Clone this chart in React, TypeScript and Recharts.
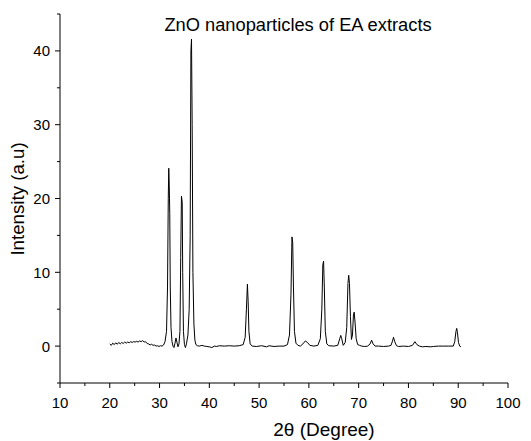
import React from "react";
import { LineChart, Line, XAxis, YAxis } from "recharts";

// 2θ positions (degrees) and intensity (a.u.)
const twoTheta = [
  20.0, 20.3, 20.6, 20.9, 21.2, 21.5, 21.8, 22.1, 22.4, 22.7,
  23.0, 23.3, 23.6, 23.9, 24.2, 24.5, 24.8, 25.1, 25.4, 25.7,
  26.0, 26.3, 26.6, 26.9, 27.2, 27.5, 27.8, 28.1, 28.4, 28.7,
  29.0, 29.3, 29.6, 29.9, 30.2, 30.5, 30.8, 31.1, 31.4, 31.6,
  31.75, 31.85, 31.95, 32.05, 32.15, 32.3, 32.5, 32.7, 32.9, 33.1,
  33.3, 33.5, 33.7, 33.9, 34.1, 34.25, 34.4, 34.55, 34.65, 34.8,
  35.0, 35.2, 35.4, 35.7, 35.95, 36.15, 36.3, 36.42, 36.55, 36.7,
  36.9, 37.1, 37.3, 37.6, 38.0, 38.5, 39.0, 39.5, 40.0, 40.5,
  41.0, 41.5, 42.0, 43.0, 44.0, 45.0, 46.0, 46.8, 47.2, 47.45,
  47.65, 47.8, 47.95, 48.2, 48.6, 49.5, 50.5, 51.5, 52.0, 53.0,
  54.0, 55.0, 55.7, 56.1, 56.4, 56.6, 56.75, 56.9, 57.1, 57.4,
  57.8, 58.3, 58.8, 59.3, 59.7, 60.2, 61.0, 61.8, 62.3, 62.6,
  62.8, 62.95, 63.1, 63.3, 63.6, 64.0, 65.0, 65.8, 66.2, 66.4,
  66.6, 66.9, 67.3, 67.6, 67.85, 68.0, 68.15, 68.35, 68.55, 68.75,
  68.95, 69.1, 69.3, 69.5, 69.8, 70.2, 70.6, 71.2, 71.8, 72.3,
  72.6, 72.9, 73.3, 74.0, 75.0, 76.0, 76.5, 76.8, 77.0, 77.25,
  77.6, 78.0, 79.0, 80.0, 80.8, 81.3, 81.7, 82.2, 82.8, 83.5,
  84.5, 85.0, 86.0, 87.0, 88.0, 89.0, 89.3, 89.55, 89.7, 89.85,
  90.05, 90.3, 90.55,
];

const intensity = [
  0.3, 0.1, 0.4, 0.2, 0.45, 0.25, 0.5, 0.3, 0.5, 0.35,
  0.55, 0.4, 0.55, 0.45, 0.6, 0.5, 0.6, 0.55, 0.65, 0.55,
  0.7, 0.6, 0.75, 0.55, 0.6, 0.35, 0.3, 0.15, 0.25, 0.1,
  0.15, 0.0, 0.05, -0.05, 0.05, 0.0, 0.15, 0.6, 2.0, 8.0,
  20.0, 24.1, 21.8, 18.0, 8.0, 2.5, 0.6, 0.0, -0.2, 0.4,
  1.1, 0.5, -0.1, 0.3, 2.0, 12.0, 20.3, 19.5, 10.0, 2.0,
  0.2, -0.2, 0.3, 1.5, 5.0, 15.0, 40.0, 41.6, 30.0, 10.0,
  3.0, 0.8, 0.2, 0.05, 0.0, 0.1, 0.0, -0.05, -0.1, -0.2,
  0.0, -0.05, 0.05, 0.0, 0.05, 0.0, 0.05, 0.2, 1.2, 5.0,
  8.4, 6.0, 2.0, 0.3, 0.0, -0.05, 0.05, -0.1, 0.05, -0.05,
  0.0, 0.0, 0.2, 1.5, 7.0, 14.8, 14.0, 8.0, 2.0, 0.4,
  0.1, 0.0, 0.3, 0.7, 0.5, 0.1, 0.0, 0.1, 1.0, 5.0,
  11.0, 11.5, 8.0, 2.0, 0.3, 0.05, 0.0, 0.1, 1.0, 1.45,
  1.0, 0.1, 0.5, 2.5, 8.5, 9.6, 8.5, 4.0, 0.9, 1.5,
  4.2, 4.6, 3.0, 1.0, 0.2, 0.1, 0.0, -0.05, 0.0, 0.3,
  0.8, 0.3, 0.0, 0.0, -0.05, 0.0, 0.1, 0.7, 1.2, 0.6,
  0.05, -0.05, 0.0, -0.05, 0.1, 0.6, 0.2, 0.0, -0.1, -0.05,
  -0.1, -0.05, 0.0, 0.0, 0.0, 0.0, 0.6, 2.0, 2.4, 1.8,
  0.5, 0.0, -0.1,
];

const xTicks = [10, 15, 20, 25, 30, 35, 40, 45, 50, 55, 60, 65, 70, 75, 80, 85, 90, 95, 100];
const yTicks = [-5, 0, 5, 10, 15, 20, 25, 30, 35, 40, 45];
const xLabels = [10, 20, 30, 40, 50, 60, 70, 80, 90, 100];
const yLabels = [0, 10, 20, 30, 40];

const data = twoTheta.map((t, i) => ({ t, v: intensity[i] }));

const FONT = '"Liberation Sans", Arial, sans-serif';

function XTick(props: any) {
  const { x, y, payload } = props;
  const major = xLabels.includes(payload.value);
  return (
    <g>
      <line x1={x} y1={y} x2={x} y2={y + (major ? 5 : 3)} stroke="#000" strokeWidth={1} />
      {major && (
        <text x={x} y={y + 19} textAnchor="middle" dominantBaseline="central" fontSize={15} fontFamily={FONT} fill="#000">
          {payload.value}
        </text>
      )}
    </g>
  );
}

function YTick(props: any) {
  const { x, y, payload } = props;
  const major = yLabels.includes(payload.value);
  return (
    <g>
      <line x1={x - (major ? 5 : 3)} y1={y} x2={x} y2={y} stroke="#000" strokeWidth={1} />
      {major && (
        <text x={x - 10} y={y} textAnchor="end" dominantBaseline="central" fontSize={15} fontFamily={FONT} fill="#000">
          {payload.value}
        </text>
      )}
    </g>
  );
}

export default function App() {
  return (
    <div style={{ position: "absolute", left: 0, top: 0, width: 531, height: 441, background: "#fff", fontFamily: FONT }}>
      <LineChart width={531} height={441} data={data} margin={{ top: 14, right: 23, bottom: 0, left: 0 }}>
        <XAxis
          dataKey="t"
          type="number"
          domain={[10, 100]}
          ticks={xTicks}
          height={58}
          tickSize={0}
          tickMargin={0}
          tick={<XTick />}
          tickLine={false}
          axisLine={{ stroke: "#000", strokeWidth: 1 }}
          interval={0}
          allowDataOverflow
        />
        <YAxis
          type="number"
          domain={[-5, 45]}
          ticks={yTicks}
          width={60}
          tickSize={0}
          tickMargin={0}
          tick={<YTick />}
          tickLine={false}
          axisLine={{ stroke: "#000", strokeWidth: 1 }}
          interval={0}
          allowDataOverflow
        />
        <Line
          dataKey="v"
          type="linear"
          stroke="#000"
          strokeWidth={1}
          dot={false}
          isAnimationActive={false}
        />
      </LineChart>
      <div style={{ position: "absolute", left: 298, top: 25, transform: "translate(-50%, -50%)", fontSize: 18.3, whiteSpace: "nowrap", color: "#000" }}>
        ZnO nanoparticles of EA extracts
      </div>
      <div style={{ position: "absolute", left: 324, top: 430, transform: "translate(-50%, -50%)", fontSize: 19, whiteSpace: "nowrap", color: "#000" }}>
        2θ (Degree)
      </div>
      <div style={{ position: "absolute", left: 18, top: 199, transform: "translate(-50%, -50%) rotate(-90deg)", fontSize: 18.7, whiteSpace: "nowrap", color: "#000" }}>
        Intensity (a.u)
      </div>
    </div>
  );
}
